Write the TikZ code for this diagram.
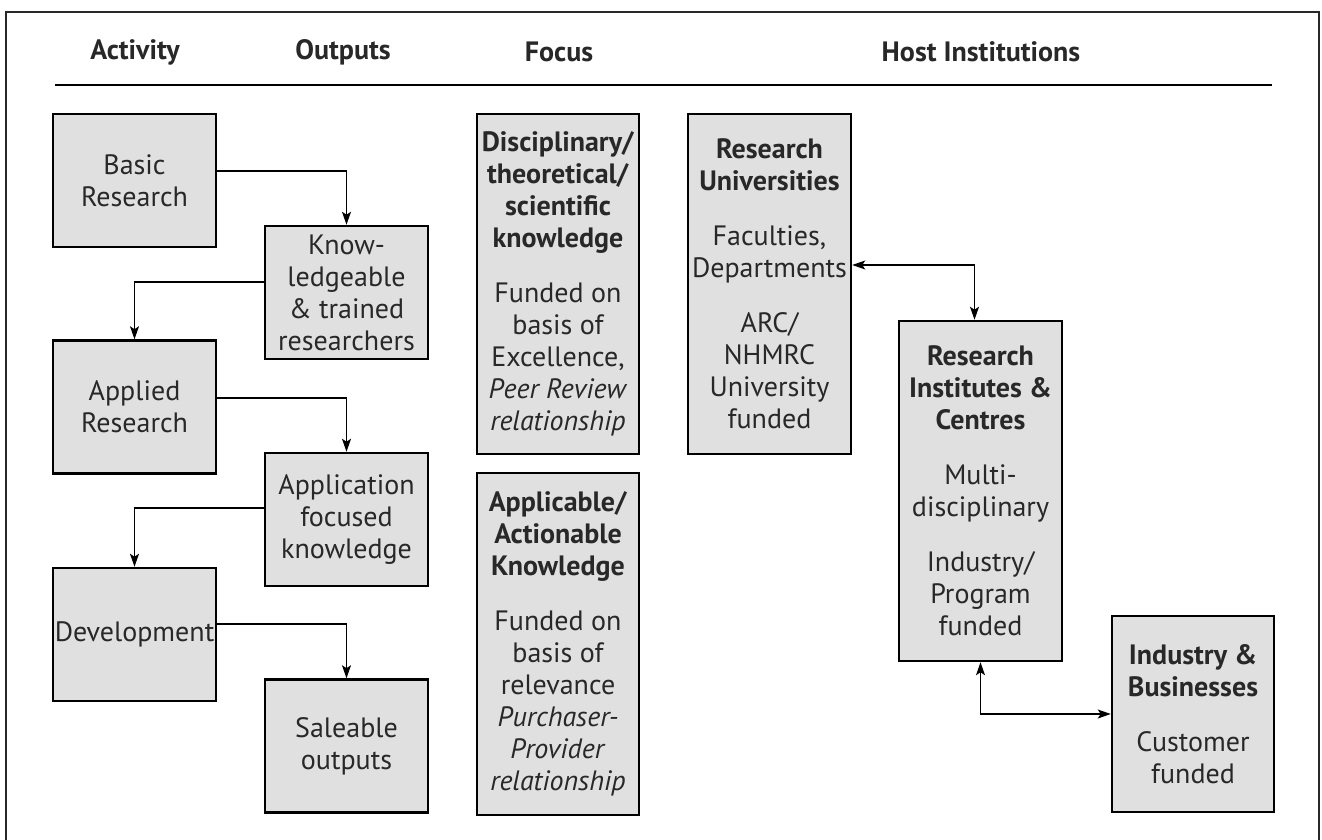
\documentclass[tikz,border=0pt]{standalone}
\usepackage{fontspec}
\setmainfont{PT Sans}
\usetikzlibrary{arrows.meta}
\definecolor{boxgray}{RGB}{224,224,224}
\definecolor{txtgray}{RGB}{40,40,40}
\begin{document}
\begin{tikzpicture}[x=1pt,y=-1pt,
  bx/.style={draw=black, line width=2.5pt, fill=boxgray, inner sep=0pt, align=center,
    text=txtgray, font=\fontsize{28}{32}\selectfont},
  hdr/.style={text=txtgray, font=\fontsize{28}{32}\selectfont\bfseries, inner sep=0pt},
  tipx/.tip={Stealth[length=13pt,width=9pt,inset=3pt]},
  con/.style={line width=1.2pt, -tipx},
  dcon/.style={line width=1.2pt, tipx-tipx},
]
\useasboundingbox (0,0) rectangle (1322,840);
\draw[line width=1.5pt, draw=txtgray] (6,12) rectangle (1319,860);

% headers
\node[hdr] (hact) at (135,52) {Activity};
\node[hdr] (hout) at (343,52) {Outputs};
\node[hdr] (hfoc) at (559,52) {Focus};
\node[hdr] (hhost) at (981,52) {Host Institutions};
\coordinate (hl1) at (55,85);
\coordinate (hl2) at (1272,85);
\draw[line width=2.5pt] (hl1) -- (hl2);

% activity / outputs
\node[bx, minimum width=163pt, minimum height=133pt] (basic) at (134.5,180.5) {Basic\\Research};
\node[bx, minimum width=163pt, minimum height=133pt] (know) at (346.5,292.5) {Know-\\ledgeable\\\& trained\\researchers};
\node[bx, minimum width=163pt, minimum height=133pt] (applied) at (134.5,407) {Applied\\Research};
\node[bx, minimum width=163pt, minimum height=133pt] (appl) at (346.5,519.5) {Application\\focused\\knowledge};
\node[bx, minimum width=163pt, minimum height=133pt] (dev) at (134.5,634.5) {Development};
\node[bx, minimum width=163pt, minimum height=133pt] (sale) at (346.5,746) {Saleable\\outputs};

% focus
\node[bx, minimum width=162pt, minimum height=340pt] (foc1) at (558,284)
  {\textbf{Disciplinary/}\\\textbf{theoretical/}\\\textbf{scientific}\\\textbf{knowledge}\\[23pt]
   Funded on\\basis of\\Excellence,\\\textit{Peer Review}\\\textit{relationship}};
\node[bx, minimum width=162pt, minimum height=342pt] (foc2) at (558,644)
  {\textbf{Applicable/}\\\textbf{Actionable}\\\textbf{Knowledge}\\[23pt]
   Funded on\\basis of\\relevance\\\textit{Purchaser-}\\\textit{Provider}\\\textit{relationship}};

% host institutions
\node[bx, minimum width=163pt, minimum height=340pt] (univ) at (769.5,284)
  {\textbf{Research}\\\textbf{Universities}\\[23pt]
   Faculties,\\Departments\\[23pt]
   ARC/\\NHMRC\\University\\funded};
\node[bx, minimum width=163pt, minimum height=340pt] (inst) at (980.5,491)
  {\textbf{Research}\\\textbf{Institutes \&}\\\textbf{Centres}\\[23pt]
   Multi-\\disciplinary\\[23pt]
   Industry/\\Program\\funded};
\node[bx, minimum width=162pt, minimum height=196pt] (ind) at (1193,714)
  {\textbf{Industry \&}\\\textbf{Businesses}\\[23pt]
   Customer\\funded};

% connectors
\draw[con] ([yshift=9.5pt]basic.east) -| (know.north);
\draw[con] ([yshift=10.5pt]know.west) -| (applied.north);
\draw[con] ([yshift=9pt]applied.east) -| (appl.north);
\draw[con] ([yshift=11.5pt]appl.west) -| (applied.south |- dev.north);
\draw[con] ([yshift=10.5pt]dev.east) -| (sale.north);
\draw[dcon] ([yshift=19pt]univ.east) -| ([xshift=-6pt]inst.north);
\draw[dcon] (inst.south) |- (ind.west);
\end{tikzpicture}
\end{document}
